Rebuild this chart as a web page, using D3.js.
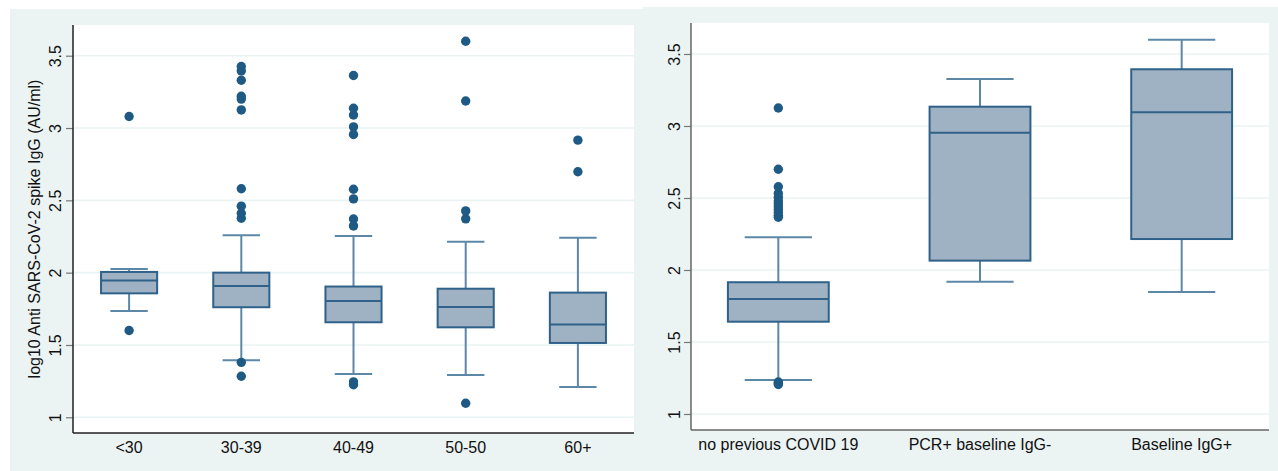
<!DOCTYPE html>
<html>
<head>
<meta charset="utf-8">
<script src="https://cdn.jsdelivr.net/npm/d3@7"></script>
<style>
  body { margin: 0; background: #fff; }
  svg text { font-family: "Liberation Sans", Arial, sans-serif; fill: #111; }
</style>
</head>
<body>
<div id="chart"></div>
<script>
// Left panel: age groups
const ageGroups = ['<30', '30-39', '40-49', '50-50', '60+'];
const ageQ1 = [1.857, 1.761, 1.657, 1.622, 1.514];
const ageMedian = [1.945, 1.908, 1.804, 1.763, 1.641];
const ageQ3 = [2.005, 2.0, 1.904, 1.889, 1.862];
const ageWhiskerLow = [1.735, 1.394, 1.30, 1.293, 1.21];
const ageWhiskerHigh = [2.026, 2.259, 2.254, 2.214, 2.242];
const ageOutliers = [
  [1.60, 3.08],
  [1.38, 1.284, 2.376, 2.41, 2.46, 2.58, 3.125, 3.20, 3.22, 3.33, 3.395, 3.425],
  [1.245, 1.225, 2.323, 2.371, 2.51, 2.577, 2.955, 3.008, 3.09, 3.137, 3.363],
  [1.097, 2.372, 2.427, 3.187, 3.60],
  [2.698, 2.916]
];

// Right panel: infection status
const statusGroups = ['no previous COVID 19', 'PCR+ baseline IgG-', 'Baseline IgG+'];
const statusQ1 = [1.641, 2.065, 2.215];
const statusMedian = [1.799, 2.953, 3.095];
const statusQ3 = [1.915, 3.134, 3.394];
const statusWhiskerLow = [1.236, 1.919, 1.847];
const statusWhiskerHigh = [2.227, 3.326, 3.599];
const statusOutliers = [
  [1.222, 1.213, 1.205, 2.366, 2.38, 2.40, 2.42, 2.44, 2.46, 2.48, 2.505, 2.533, 2.578, 2.70, 3.125],
  [],
  []
];

const yTicks = [1, 1.5, 2, 2.5, 3, 3.5];
const yLabel = 'log10 Anti SARS-CoV-2 spike IgG (AU/ml)';

const width = 1278, height = 471;
const svg = d3.select('#chart').append('svg')
  .attr('width', width)
  .attr('height', height);

function drawPanel(opts) {
  const { bg, plot, groups, q1, median, q3, lo, hi, outliers, padding, axisColor, tickOffset, label } = opts;

  // outer panel background
  svg.append('rect')
    .attr('x', bg.x).attr('y', bg.y)
    .attr('width', bg.w).attr('height', bg.h)
    .attr('fill', '#ebf3f3');

  // plot area
  svg.append('rect')
    .attr('x', plot.x0).attr('y', plot.y0)
    .attr('width', plot.x1 - plot.x0).attr('height', plot.y1 - plot.y0)
    .attr('fill', '#fff');

  const x = d3.scalePoint()
    .domain(groups)
    .range([plot.x0, plot.x1])
    .padding(padding);

  const y = d3.scaleLinear()
    .domain([1, 3.5])
    .range([plot.yAt1, plot.yAt35]);

  const g = svg.append('g');

  // grid lines
  g.selectAll('.grid')
    .data(yTicks)
    .join('line')
    .attr('x1', plot.x0).attr('x2', plot.x1)
    .attr('y1', d => y(d)).attr('y2', d => y(d))
    .attr('stroke', '#eaf3f3')
    .attr('stroke-width', 1.6);

  const step = x.step();
  const boxW = step * 0.5;
  const capW = step / 3;

  const data = groups.map((name, i) => ({
    name, q1: q1[i], med: median[i], q3: q3[i], lo: lo[i], hi: hi[i], out: outliers[i]
  }));

  const boxes = g.selectAll('.box')
    .data(data)
    .join('g')
    .attr('class', 'box');

  // whiskers + caps
  const whisker = (sel, a, b) => sel.append('line')
    .attr('x1', d => x(d.name)).attr('x2', d => x(d.name))
    .attr('y1', d => y(d[a])).attr('y2', d => y(d[b]))
    .attr('stroke', '#5c87a7').attr('stroke-width', 2);
  const cap = (sel, key) => sel.append('line')
    .attr('x1', d => x(d.name) - capW / 2).attr('x2', d => x(d.name) + capW / 2)
    .attr('y1', d => y(d[key])).attr('y2', d => y(d[key]))
    .attr('stroke', '#5c87a7').attr('stroke-width', 2);

  whisker(boxes, 'q3', 'hi');
  whisker(boxes, 'q1', 'lo');
  cap(boxes, 'hi');
  cap(boxes, 'lo');

  // box
  boxes.append('rect')
    .attr('x', d => x(d.name) - boxW / 2)
    .attr('width', boxW)
    .attr('y', d => y(d.q3))
    .attr('height', d => y(d.q1) - y(d.q3))
    .attr('fill', '#9fb2c3')
    .attr('stroke', '#2f6189')
    .attr('stroke-width', 2);

  // median
  boxes.append('line')
    .attr('x1', d => x(d.name) - boxW / 2).attr('x2', d => x(d.name) + boxW / 2)
    .attr('y1', d => y(d.med)).attr('y2', d => y(d.med))
    .attr('stroke', '#2f6189').attr('stroke-width', 2);

  // outliers
  boxes.selectAll('circle')
    .data(d => d.out.map(v => ({ name: d.name, v })))
    .join('circle')
    .attr('cx', d => x(d.name))
    .attr('cy', d => y(d.v))
    .attr('r', 4.7)
    .attr('fill', '#1e5a84');

  // y axis
  const yAxis = d3.axisLeft(y)
    .tickValues(yTicks)
    .tickFormat(d3.format('~g'))
    .tickSize(7);

  const yG = svg.append('g')
    .attr('transform', `translate(${plot.x0}, 0)`)
    .call(yAxis);
  yG.select('.domain').remove();
  yG.selectAll('.tick line').attr('stroke', '#777').attr('stroke-width', 1.2);
  yG.selectAll('.tick text')
    .attr('transform', 'rotate(-90)')
    .attr('x', 0)
    .attr('y', -tickOffset)
    .attr('dy', 0)
    .attr('text-anchor', 'middle')
    .style('font-size', '16px')
    .style('font-family', '"Liberation Sans", Arial, sans-serif')
    .attr('fill', '#111');

  // axis lines
  svg.append('line')
    .attr('x1', plot.x0).attr('x2', plot.x0)
    .attr('y1', plot.y0).attr('y2', plot.y1)
    .attr('stroke', axisColor).attr('stroke-width', 1.5);
  svg.append('line')
    .attr('x1', plot.x0).attr('x2', plot.x1)
    .attr('y1', plot.y1).attr('y2', plot.y1)
    .attr('stroke', axisColor).attr('stroke-width', 1.5);

  // x labels
  svg.selectAll(null)
    .data(groups)
    .join('text')
    .attr('x', d => x(d))
    .attr('y', plot.y1 + 20)
    .attr('text-anchor', 'middle')
    .style('font-size', '16px')
    .text(d => d);

  if (label) {
    svg.append('text')
      .attr('transform', `translate(${plot.x0 - 33}, ${(plot.y0 + plot.y1) / 2}) rotate(-90)`)
      .attr('text-anchor', 'middle')
      .style('font-size', '16px')
      .text(label);
  }
}

drawPanel({
  bg: { x: 10, y: 9, w: 633, h: 462 },
  plot: { x0: 73, x1: 634, y0: 25, y1: 433, yAt1: 417.3, yAt35: 55.7 },
  groups: ageGroups, q1: ageQ1, median: ageMedian, q3: ageQ3,
  lo: ageWhiskerLow, hi: ageWhiskerHigh, outliers: ageOutliers,
  padding: 0.5, axisColor: '#222', tickOffset: 12.5, label: yLabel
});

drawPanel({
  bg: { x: 643, y: 7, w: 635, h: 464 },
  plot: { x0: 691, x1: 1269, y0: 23, y1: 430, yAt1: 414, yAt35: 54 },
  groups: statusGroups, q1: statusQ1, median: statusMedian, q3: statusQ3,
  lo: statusWhiskerLow, hi: statusWhiskerHigh, outliers: statusOutliers,
  padding: 0.433, axisColor: '#666', tickOffset: 11.5, label: null
});
</script>
</body>
</html>
